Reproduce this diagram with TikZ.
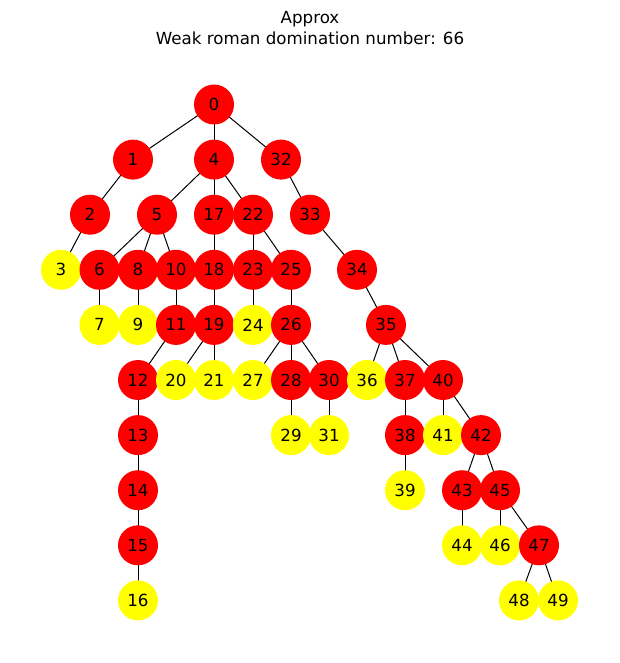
\documentclass[tikz,border=0pt]{standalone}
\usepackage{fontspec}
\setmainfont{DejaVu Sans}
\usetikzlibrary{backgrounds}
\definecolor{nred}{HTML}{FF0000}
\definecolor{nyel}{HTML}{FFFF00}
\tikzset{
  vtx/.style={circle, inner sep=0pt, minimum size=30pt, font=\fontsize{12.5}{15}\selectfont, text=black},
  R/.style={vtx, fill=nred},
  Y/.style={vtx, fill=nyel},
  edge/.style={draw=black, line width=0.75pt},
  ttl/.style={font=\fontsize{12.5}{15}\selectfont, text=black, inner sep=0pt}
}
\begin{document}
\begin{tikzpicture}[x=0.75pt, y=-0.75pt]
\useasboundingbox (0,0) rectangle (619,663);
\node[ttl, anchor=base] (t1) at (310,24) {Approx};
\node[ttl, anchor=base] (t2) at (310,45) {Weak roman domination number: 66};
% rows
\def\ra{104.5}\def\rb{159.6}\def\rc{214.7}\def\rd{269.8}\def\re{324.9}
\def\rf{380}\def\rg{435.1}\def\rh{490.2}\def\ri{545.3}\def\rj{600.4}
\node[R] (n0) at (214,\ra) {0};
\node[R] (n1) at (133,\rb) {1};
\node[R] (n4) at (214,\rb) {4};
\node[R] (n32) at (281,\rb) {32};
\node[R] (n2) at (90,\rc) {2};
\node[R] (n5) at (157,\rc) {5};
\node[R] (n17) at (214,\rc) {17};
\node[R] (n22) at (253,\rc) {22};
\node[R] (n33) at (310,\rc) {33};
\node[Y] (n3) at (61,\rd) {3};
\node[R] (n6) at (99.5,\rd) {6};
\node[R] (n8) at (138,\rd) {8};
\node[R] (n10) at (176,\rd) {10};
\node[R] (n18) at (214,\rd) {18};
\node[R] (n23) at (253,\rd) {23};
\node[R] (n25) at (291,\rd) {25};
\node[R] (n34) at (357,\rd) {34};
\node[Y] (n7) at (99.5,\re) {7};
\node[Y] (n9) at (138,\re) {9};
\node[R] (n11) at (176,\re) {11};
\node[R] (n19) at (214,\re) {19};
\node[Y] (n24) at (253,\re) {24};
\node[R] (n26) at (291,\re) {26};
\node[R] (n35) at (386,\re) {35};
\node[R] (n12) at (138,\rf) {12};
\node[Y] (n20) at (176,\rf) {20};
\node[Y] (n21) at (214,\rf) {21};
\node[Y] (n27) at (253,\rf) {27};
\node[R] (n28) at (291,\rf) {28};
\node[R] (n30) at (329,\rf) {30};
\node[Y] (n36) at (367,\rf) {36};
\node[R] (n37) at (405,\rf) {37};
\node[R] (n40) at (443,\rf) {40};
\node[R] (n13) at (138,\rg) {13};
\node[Y] (n29) at (291,\rg) {29};
\node[Y] (n31) at (329,\rg) {31};
\node[R] (n38) at (405,\rg) {38};
\node[Y] (n41) at (443,\rg) {41};
\node[R] (n42) at (481,\rg) {42};
\node[R] (n14) at (138,\rh) {14};
\node[Y] (n39) at (405,\rh) {39};
\node[R] (n43) at (462,\rh) {43};
\node[R] (n45) at (500,\rh) {45};
\node[R] (n15) at (138,\ri) {15};
\node[Y] (n44) at (462,\ri) {44};
\node[Y] (n46) at (500,\ri) {46};
\node[R] (n47) at (539,\ri) {47};
\node[Y] (n16) at (138,\rj) {16};
\node[Y] (n48) at (519,\rj) {48};
\node[Y] (n49) at (558,\rj) {49};
\begin{scope}[on background layer]
\foreach \a/\b in {0/1,0/4,0/32,1/2,2/3,4/5,4/17,4/22,5/6,5/8,5/10,6/7,8/9,10/11,
  11/12,12/13,13/14,14/15,15/16,17/18,18/19,19/20,19/21,22/23,22/25,23/24,25/26,
  26/27,26/28,26/30,28/29,30/31,32/33,33/34,34/35,35/36,35/37,35/40,37/38,38/39,
  40/41,40/42,42/43,42/45,43/44,45/46,45/47,47/48,47/49}
  \draw[edge] (n\a.center) -- (n\b.center);
\end{scope}
\end{tikzpicture}
\end{document}
